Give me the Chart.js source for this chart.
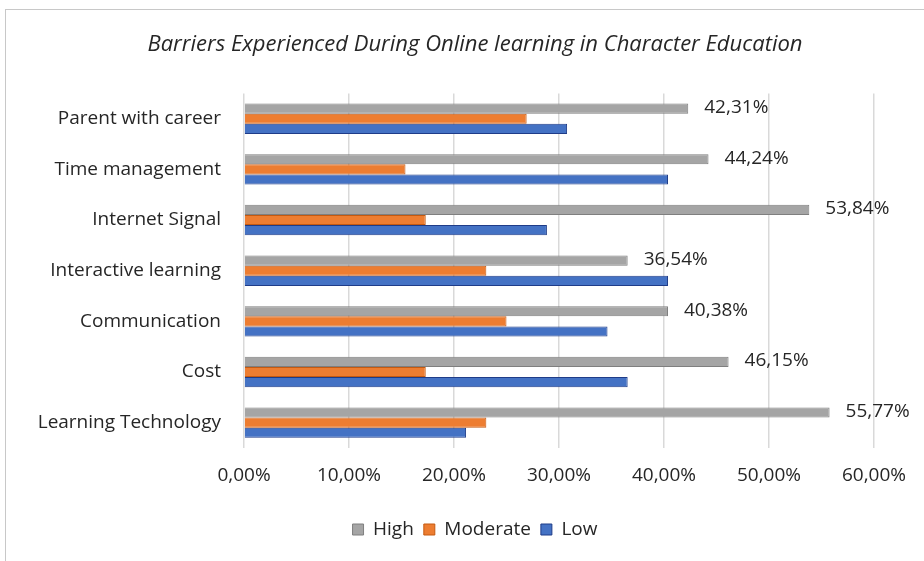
<!DOCTYPE html>
<html>
<head>
<meta charset="utf-8">
<script src="https://cdn.jsdelivr.net/npm/chart.js@4.4.0/dist/chart.umd.min.js"></script>
<style>
  html, body { margin: 0; padding: 0; background: #fff; overflow: hidden; }
  #wrap { width: 924px; height: 561px; }
</style>
</head>
<body>
<div id="wrap"><canvas id="myBarChart" width="924" height="561"></canvas></div>
<script>
// Chart data
var categories = ["Parent with career", "Time management", "Internet Signal", "Interactive learning", "Communication", "Cost", "Learning Technology"];
var highValues = [42.31, 44.24, 53.84, 36.54, 40.38, 46.15, 55.77];
var moderateValues = [26.92, 15.38, 17.31, 23.08, 25.00, 17.31, 23.08];
var lowValues = [30.77, 40.38, 28.85, 40.38, 34.62, 36.54, 21.15];
var xTicks = [0, 10, 20, 30, 40, 50, 60];

var textColor = "#262626";
var fontName = "'Open Sans'";

// 42.31 -> "42,31%"
function fmtPct(v) {
    return v.toFixed(2).replace(".", ",") + "%";
}

// White background + thin frame like the Excel chart area
var frame = {
    id: "frame",
    beforeDraw: function(chart) {
        var ctx = chart.ctx;
        ctx.save();
        ctx.fillStyle = "#fff";
        ctx.fillRect(0, 0, chart.width, chart.height);
        ctx.strokeStyle = "#c8c8c8";
        ctx.lineWidth = 1;
        ctx.strokeRect(5.5, 9.5, chart.width + 10, chart.height + 10);
        ctx.restore();
    }
};

// Value labels next to the High bars
var highLabels = {
    id: "highLabels",
    afterDatasetsDraw: function(chart) {
        var ctx = chart.ctx;
        var meta = chart.getDatasetMeta(0);
        ctx.save();
        ctx.font = "19px " + fontName;
        ctx.fillStyle = textColor;
        ctx.textBaseline = "middle";
        ctx.textAlign = "left";
        meta.data.forEach(function(bar, i) {
            ctx.fillText(fmtPct(highValues[i]), bar.x + 16, bar.y - 1);
        });
        ctx.restore();
    }
};

// Title and legend are centred on the whole chart in the original,
// push them right a bit (layout centres them between the paddings)
var centreShift = {
    id: "centreShift",
    afterLayout: function(chart) {
        var dx = 33;
        if (chart.titleBlock) {
            chart.titleBlock.left += dx;
            chart.titleBlock.right += dx;
        }
        if (chart.legend) {
            chart.legend.left += dx;
            chart.legend.right += dx;
        }
    }
};

var ctx = document.getElementById("myBarChart").getContext("2d");

var myBarChart = new Chart(ctx, {
    type: "bar",
    data: {
        labels: categories,
        datasets: [
            {
                label: "High",
                data: highValues,
                backgroundColor: "#a5a5a5",
                borderColor: "#7f7f7f",
                borderWidth: 1
            },
            {
                label: "Moderate",
                data: moderateValues,
                backgroundColor: "#ed7d31",
                borderColor: "#c55a11",
                borderWidth: 1
            },
            {
                label: "Low",
                data: lowValues,
                backgroundColor: "#4472c4",
                borderColor: "#1f3c88",
                borderWidth: 1
            }
        ]
    },
    options: {
        responsive: false,
        animation: false,
        indexAxis: "y",
        categoryPercentage: 0.6,
        barPercentage: 1.0,
        layout: {
            padding: { left: 10, right: 50, top: 0, bottom: 12 }
        },
        scales: {
            x: {
                min: xTicks[0],
                max: xTicks[xTicks.length - 1],
                afterBuildTicks: function(scale) {
                    scale.ticks = xTicks.map(function(v) { return { value: v }; });
                },
                afterFit: function(scale) {
                    scale.height = 62;
                },
                grid: { color: "#d9d9d9", lineWidth: 1.5, drawTicks: false },
                border: { display: false },
                ticks: {
                    padding: 16,
                    color: textColor,
                    font: { family: fontName, size: 19 },
                    callback: function(v) { return fmtPct(v); }
                }
            },
            y: {
                afterFit: function(scale) {
                    scale.width = 234;
                },
                grid: { display: false, drawTicks: false },
                border: { display: false },
                ticks: {
                    padding: 23,
                    color: textColor,
                    font: { family: fontName, size: 19 }
                }
            }
        },
        plugins: {
            title: {
                display: true,
                text: "Barriers Experienced During Online learning in Character Education",
                color: textColor,
                font: { family: fontName, size: 22, style: "italic", weight: "normal" },
                padding: { top: 32, bottom: 35 }
            },
            legend: {
                position: "bottom",
                labels: {
                    boxWidth: 11,
                    boxHeight: 11,
                    padding: 10,
                    color: textColor,
                    font: { family: fontName, size: 19 }
                }
            },
            tooltip: { enabled: false }
        }
    },
    plugins: [frame, highLabels, centreShift]
});
</script>
</body>
</html>
